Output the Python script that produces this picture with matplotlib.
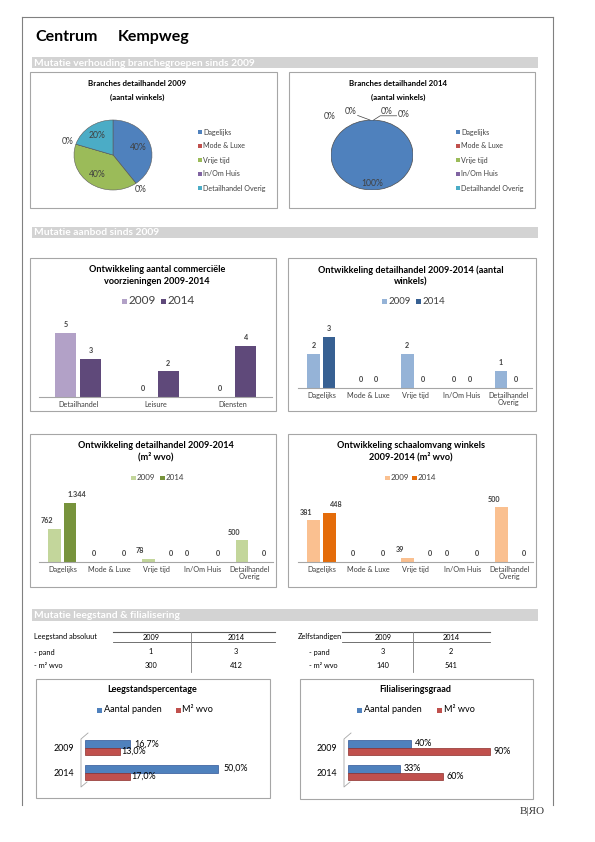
import matplotlib
matplotlib.use('Agg')
import matplotlib.pyplot as plt
from matplotlib.patches import Rectangle, Circle
import numpy as np

plt.rcParams['font.family'] = ['Lato', 'DejaVu Sans']

# ---------------- data ----------------
header_left = "Centrum"
header_right = "Kempweg"

pie_cats = ["Dagelijks", "Mode & Luxe", "Vrije tijd", "In/Om Huis", "Detailhandel Overig"]
pie_2009 = [2, 0, 2, 0, 1]
pie_2014 = [3, 0, 0, 0, 0]
pie_colors = ['#4F81BD', '#C0504D', '#9BBB59', '#8064A2', '#4BACC6']

comm_cats = ["Detailhandel", "Leisure", "Diensten"]
comm_2009 = [5, 0, 0]
comm_2014 = [3, 2, 4]

dh_cats = ["Dagelijks", "Mode & Luxe", "Vrije tijd", "In/Om Huis", "Detailhandel\nOverig"]
dh_n_2009 = [2, 0, 2, 0, 1]
dh_n_2014 = [3, 0, 0, 0, 0]
dh_m2_2009 = [762, 0, 78, 0, 500]
dh_m2_2014 = [1344, 0, 0, 0, 0]
sch_2009 = [381, 0, 39, 0, 500]
sch_2014 = [448, 0, 0, 0, 0]

years = ["2009", "2014"]
leeg_rows = ["- pand", "- m² wvo"]
leeg_pand = [1, 3]
leeg_m2 = [300, 412]
zelf_pand = [3, 2]
zelf_m2 = [140, 541]

hbar_series = ["Aantal panden", "M² wvo"]
leeg_pct_panden = [16.7, 50.0]
leeg_pct_m2 = [13.0, 17.0]
fil_panden = [40, 33]
fil_m2 = [90, 60]

# ---------------- figure ----------------
W, H = 595, 842
fig = plt.figure(figsize=(W / 100, H / 100), dpi=100)


def px_axes(x0, y0, x1, y1, **kw):
    return fig.add_axes([x0 / W, 1 - y1 / H, (x1 - x0) / W, (y1 - y0) / H], **kw)


ov = px_axes(0, 0, W, H)
ov.set_xlim(0, W)
ov.set_ylim(H, 0)
ov.axis('off')

TXT = '#404040'
FRAME = '#808080'
PANEL = '#A6A6A6'

# page frame
ov.plot([22, 22], [17, 805], color=FRAME, lw=0.8)
ov.plot([22, 553], [17, 17], color=FRAME, lw=0.8)
ov.plot([553, 553], [17, 805], color=FRAME, lw=0.8)

ov.text(35, 37, header_left, fontsize=11.5, fontweight='bold', va='center', ha='left', color='black')
ov.text(118, 37, header_right, fontsize=11.5, fontweight='bold', va='center', ha='left', color='black')


def band(y0, y1, label):
    ov.add_patch(Rectangle((32, y0), 506, y1 - y0, facecolor='#D3D3D3', edgecolor='none'))
    ov.text(34, (y0 + y1) / 2 + 0.5, label, fontsize=7.4, fontweight='bold', color='white',
            va='center', ha='left')


band(57, 68, "Mutatie verhouding branchegroepen sinds 2009")
band(226.5, 238, "Mutatie aanbod sinds 2009")
band(609, 621, "Mutatie leegstand & filialisering")


def panel(x0, y0, x1, y1):
    ov.add_patch(Rectangle((x0, y0), x1 - x0, y1 - y0, facecolor='none', edgecolor=PANEL, lw=0.8))


for p in [(30, 72, 277, 208), (289, 72, 535, 208), (30, 258, 276, 411), (288, 258, 536, 411),
          (30, 434, 276, 587), (288, 434, 536, 587), (36, 679, 270, 798), (300, 679, 533, 799)]:
    panel(*p)


def legend_item(x, y, color, label, fs, size=4.5, tc=TXT, gap=1.5):
    ov.add_patch(Rectangle((x, y - size / 2), size, size, facecolor=color, edgecolor='none'))
    ov.text(x + size + gap, y, label, fontsize=fs, va='center', ha='left', color=tc)


def title(cx, ys, lines, fs):
    for y, t in zip(ys, lines):
        ov.text(cx, y, t, fontsize=fs, fontweight='bold', ha='center', va='center', color='black')


# ---------------- pies ----------------
def draw_pie(cx, cy, rx, ry, vals, edge, zero_xy=None):
    ax = px_axes(cx - rx, cy - ry, cx + rx, cy + ry)
    ax.pie(vals, colors=pie_colors, startangle=90, counterclock=False,
           wedgeprops=dict(edgecolor=edge if edge else 'none', linewidth=0.4))
    ax.set_aspect('auto')
    ax.set_xlim(-1, 1)
    ax.set_ylim(-1, 1)
    if not edge:
        ax.add_patch(Circle((0, 0), 1, fill=False, edgecolor='#4d4d4d', lw=0.5))
    total = float(sum(vals))
    start = 90.0
    zi = 0
    for v in vals:
        sweep = 360.0 * v / total
        mid = np.deg2rad(start - sweep / 2)
        start -= sweep
        lab = f"{round(100 * v / total):.0f}%"
        if v > 0:
            r = 0.8 if sweep > 359 else 0.68
            ax.text(r * np.cos(mid), r * np.sin(mid), lab, fontsize=6.2, ha='center', va='center', color=TXT)
        else:
            if zero_xy is not None:
                px, py = zero_xy[zi]
                zi += 1
            else:
                px, py = 1.22 * np.cos(mid), 1.22 * np.sin(mid)
            ax.text(px, py, lab, fontsize=6.2, ha='center', va='center', color=TXT)
    return ax


draw_pie(113, 155, 39, 35, pie_2009, '#5a5a5a')
ax_p2 = draw_pie(372, 155, 41, 35, pie_2014, None,
                 zero_xy=[(-1.02, 1.1), (-0.52, 1.24), (0.37, 1.24), (0.78, 1.16)])
ax_p2.plot([-0.35, -0.05], [1.13, 1.0], color='#404040', lw=0.5, clip_on=False)
ax_p2.plot([0.04, 0.2, 0.6], [1.0, 1.12, 1.12], color='#404040', lw=0.5, clip_on=False)

title(137, [83, 97], ["Branches detailhandel 2009", "(aantal winkels)"], 5.7)
title(398, [83, 97], ["Branches detailhandel 2014", "(aantal winkels)"], 5.7)

for i, (c, lab) in enumerate(zip(pie_colors, pie_cats)):
    y = 132 + i * 14
    legend_item(198, y, c, lab, 5.1, size=3.8, gap=1.2)
    legend_item(456, y, c, lab, 5.1, size=3.8, gap=1.2)


# ---------------- vertical bar charts ----------------
def fmt_int(v):
    return f"{int(v):,}".replace(',', '.')


def draw_bars(box, cats, v1, v2, c1, c2, ymax, lab_off=(0.0, 0.0)):
    x0, y0, x1, y1 = box
    ax = px_axes(x0, y0, x1, y1)
    ax.patch.set_alpha(0)
    n = len(cats)
    x = np.arange(n)
    w, off = 0.27, 0.165
    ax.bar(x - off, v1, w, color=c1)
    ax.bar(x + off, v2, w, color=c2)
    ax.set_xlim(-0.5, n - 0.5)
    ax.set_ylim(0, ymax)
    for s in ['top', 'right', 'left']:
        ax.spines[s].set_visible(False)
    ax.spines['bottom'].set_color('#A6A6A6')
    ax.spines['bottom'].set_linewidth(0.8)
    ax.set_yticks([])
    ax.set_xticks(x)
    ax.set_xticklabels(cats, fontsize=5.2, color=TXT, linespacing=0.95)
    ax.tick_params(axis='x', length=0, pad=3)
    for xi, a, b in zip(x, v1, v2):
        ax.annotate(fmt_int(a), (xi - off + lab_off[0], a), xytext=(0, 5.8), textcoords='offset points',
                    ha='center', va='center', fontsize=5.2, fontweight='bold', color=TXT)
        ax.annotate(fmt_int(b), (xi + off + lab_off[1], b), xytext=(0, 5.8), textcoords='offset points',
                    ha='center', va='center', fontsize=5.2, fontweight='bold', color=TXT)
    return ax


# chart 1
draw_bars((39.5, 320, 271.5, 397), comm_cats, comm_2009, comm_2014, '#B2A1C7', '#5F497A', 6)
title(157, [270, 281], ["Ontwikkeling aantal commerciële", "voorzieningen 2009-2014"], 6.6)
legend_item(122, 301, '#B2A1C7', years[0], 8.5, size=5)
legend_item(161, 301, '#5F497A', years[1], 8.5, size=5)

# chart 2
draw_bars((298, 320, 532, 388), dh_cats, dh_n_2009, dh_n_2014, '#95B3D7', '#376092', 4)
title(411, [270, 282], ["Ontwikkeling detailhandel 2009-2014 (aantal", "winkels)"], 6.6)
legend_item(382, 301, '#95B3D7', years[0], 7, size=5)
legend_item(416, 301, '#376092', years[1], 7, size=5)

# chart 3
draw_bars((39, 491.8, 273, 562), dh_cats, dh_m2_2009, dh_m2_2014, '#C3D69B', '#77933C', 1600,
          lab_off=(-0.17, 0.15))
title(156, [446, 457], ["Ontwikkeling detailhandel 2009-2014", "(m² wvo)"], 6.6)
legend_item(131, 478, '#C3D69B', years[0], 5.8, size=4.5)
legend_item(160, 478, '#77933C', years[1], 5.8, size=4.5)

# chart 4
draw_bars((298, 496.4, 533, 562), dh_cats, sch_2009, sch_2014, '#FAC090', '#E46C0A', 600,
          lab_off=(-0.17, 0.15))
title(411, [446, 457], ["Ontwikkeling schaalomvang winkels", "2009-2014 (m² wvo)"], 6.6)
legend_item(385, 478, '#FAC090', years[0], 5.8, size=4.5)
legend_item(412, 478, '#E46C0A', years[1], 5.8, size=4.5)


# ---------------- tables ----------------
def table(x_lab, head, x_row, x_line0, x_line1, x_div, xc, rows_vals):
    ov.text(x_lab, 637, head, fontsize=5.3, ha='left', va='center', color='black')
    ov.plot([x_line0, x_line1], [632, 632], color='#595959', lw=0.8)
    ov.plot([x_line0, x_line1], [642, 642], color='#595959', lw=0.6)
    ov.plot([x_div, x_div], [632, 672], color='#7f7f7f', lw=0.6)
    for x, yv in zip(xc, years):
        ov.text(x, 637, yv, fontsize=5.3, ha='center', va='center', color='black')
    for y, rl, vals in zip([652, 665], leeg_rows, rows_vals):
        ov.text(x_row, y, rl, fontsize=5.3, ha='left', va='center', color='black')
        for x, v in zip(xc, vals):
            ov.text(x, y, str(v), fontsize=5.3, ha='center', va='center', color='black')


table(34, "Leegstand absoluut", 34, 113, 275, 191, [151, 236], [leeg_pand, leeg_m2])
table(298, "Zelfstandigen", 309, 342, 490, 413, [383, 451], [zelf_pand, zelf_m2])


# ---------------- horizontal bar charts ----------------
def draw_hbar(x0, x1, v1, v2, xmax, fmt, off1, off2):
    ax = px_axes(x0, 735.5, x1, 785)
    ax.patch.set_alpha(0)
    y = np.arange(len(years))
    ax.barh(y - 0.16, v1, 0.33, color='#4F81BD', edgecolor='#2f5597', lw=0.5)
    ax.barh(y + 0.15, v2, 0.29, color='#C0504D', edgecolor='#8c2f2c', lw=0.5)
    ax.set_ylim(len(years) - 0.5, -0.5)
    ax.set_xlim(0, xmax)
    for s in ax.spines.values():
        s.set_visible(False)
    ax.set_xticks([])
    ax.set_yticks(y)
    ax.set_yticklabels(years, fontsize=6.4, color='black')
    ax.tick_params(axis='y', length=0, pad=8)
    for yi, a, b in zip(y, v1, v2):
        ax.annotate(fmt(a), (a, yi - 0.16), xytext=(off1, 0), textcoords='offset points',
                    ha='left', va='center', fontsize=6.4, color='black')
        ax.annotate(fmt(b), (b, yi + 0.15), xytext=(off2, 0), textcoords='offset points',
                    ha='left', va='center', fontsize=6.4, color='black')
    return ax


def wall(xl, xr):
    ov.plot([xr, xl, xl, xr - 1], [733, 739, 787, 782], color='#A6A6A6', lw=0.6)


draw_hbar(85, 245, leeg_pct_panden, leeg_pct_m2, 60,
          lambda v: f"{v:.1f}%".replace('.', ','), 3.5, 1.0)
wall(81, 88)
title(152, [690], ["Leegstandspercentage"], 6.5)
legend_item(97, 710, '#4F81BD', hbar_series[0], 6.6, size=5, tc='black')
legend_item(176, 710, '#C0504D', hbar_series[1], 6.6, size=5, tc='black')

draw_hbar(348, 506, fil_panden, fil_m2, 100, lambda v: f"{v:.0f}%", 2.5, 2.5)
wall(344, 351)
title(415, [690], ["Filialiseringsgraad"], 6.5)
legend_item(357, 710, '#4F81BD', hbar_series[0], 6.6, size=5, tc='black')
legend_item(437, 710, '#C0504D', hbar_series[1], 6.6, size=5, tc='black')

# logo
ov.text(532, 812, "B|ЯO", fontsize=8, family=['Liberation Serif', 'DejaVu Serif'],
        ha='center', va='center', color='#333333')

fig.savefig('out.png', dpi=100)
